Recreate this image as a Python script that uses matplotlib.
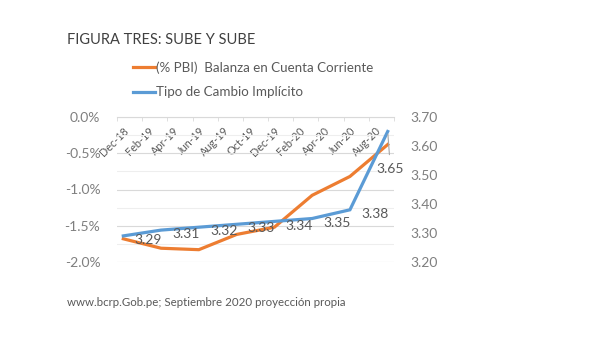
## Figura tres: balanza en cuenta corriente vs tipo de cambio
import matplotlib
matplotlib.use('Agg')
import matplotlib.pyplot as plt
from matplotlib.ticker import FuncFormatter, MultipleLocator
from matplotlib.lines import Line2D

plt.rcParams['font.family'] = ['Lato', 'DejaVu Sans']

## data
months = ['Dec-18', 'Jan-19', 'Feb-19', 'Mar-19', 'Apr-19', 'May-19', 'Jun-19', 'Jul-19',
          'Aug-19', 'Sep-19', 'Oct-19', 'Nov-19', 'Dec-19', 'Jan-20', 'Feb-20', 'Mar-20',
          'Apr-20', 'May-20', 'Jun-20', 'Jul-20', 'Aug-20', 'Sep-20']
quarters = ['Dec-18', 'Mar-19', 'Jun-19', 'Sep-19', 'Dec-19', 'Mar-20', 'Jun-20', 'Sep-20']
balanza = [-1.68, -1.81, -1.83, -1.62, -1.52, -1.08, -0.82, -0.38]   # % PBI
tipo_cambio = [3.29, 3.31, 3.32, 3.33, 3.34, 3.35, 3.38, 3.65]

orange = '#ED7D31'
blue = '#5B9BD5'
grey = '#595959'

xq = [months.index(q) for q in quarters]

fig = plt.figure(figsize=(6.02, 3.39), dpi=100)
ax = fig.add_axes([117/602, 1 - 262/339, 277/602, 145/339])
ax2 = ax.twinx()

ax.plot(xq, balanza, color=orange, lw=2.3, solid_joinstyle='miter', zorder=3)
ax2.plot(xq, tipo_cambio, color=blue, lw=2.3, solid_joinstyle='miter', zorder=3)

ax.set_xlim(-0.5, len(months) - 0.5)
ax.set_ylim(-2.0, 0.0)
ax2.set_ylim(3.20, 3.70)

# grid
ax.yaxis.set_major_locator(MultipleLocator(0.5))
ax.yaxis.set_minor_locator(MultipleLocator(0.25))
ax.grid(axis='y', which='major', color='#D9D9D9', lw=0.8)
ax.grid(axis='y', which='minor', color='#EEEEEE', lw=0.8)
ax.set_axisbelow(True)
ax2.yaxis.set_major_locator(MultipleLocator(0.1))

for a in (ax, ax2):
    for s in a.spines.values():
        s.set_visible(False)

# category axis sits at 0.0%
ax.spines['bottom'].set_visible(True)
ax.spines['bottom'].set_position(('data', 0))
ax.spines['bottom'].set_color('#D9D9D9')
ax.set_xticks(range(0, len(months), 2))
ax.set_xticklabels(months[::2], rotation=45, ha='right', va='top',
                   rotation_mode='anchor', fontsize=7.8, color=grey)
ax.set_xticks([i - 0.5 for i in range(0, len(months) + 1, 2)], minor=True)
ax.tick_params(axis='x', which='major', length=0, pad=6)
ax.tick_params(axis='x', which='minor', length=3, color='#D9D9D9')

ax.yaxis.set_major_formatter(FuncFormatter(lambda v, p: '%.1f%%' % v))
ax.tick_params(axis='y', which='both', length=0, labelsize=10, labelcolor='#7F7F7F', pad=12)
ax2.yaxis.set_major_formatter(FuncFormatter(lambda v, p: '%.2f' % v))
ax2.tick_params(axis='y', length=0, labelsize=10, labelcolor='#7F7F7F', pad=12)

# data labels
for x, v in zip(xq[:-1], tipo_cambio[:-1]):
    ax2.annotate('%.2f' % v, (x, v), xytext=(8, -3), textcoords='offset points',
                 ha='left', va='center', fontsize=10, color=grey)
ax2.annotate('%.2f' % tipo_cambio[-1], (xq[-1], tipo_cambio[-1]), xytext=(2, -27),
             textcoords='offset points', ha='center', va='center', fontsize=10, color=grey,
             arrowprops=dict(arrowstyle='-', color='#A6A6A6', lw=0.8, shrinkA=4, shrinkB=2))

# title, legend, source
fig.text(67/602, 1 - 40/339, 'FIGURA TRES: SUBE Y SUBE', fontsize=10.5, color='#404040',
         ha='left', va='center')
handles = [Line2D([], [], color=orange, lw=2.3), Line2D([], [], color=blue, lw=2.3)]
fig.legend(handles, ['(% PBI)  Balanza en Cuenta Corriente', 'Tipo de Cambio Implícito'],
           loc='upper left', bbox_to_anchor=(133/602, 1 - 61/339), frameon=False,
           fontsize=9.6, labelcolor=grey, handlelength=1.65, handletextpad=0.1,
           labelspacing=0.95, borderpad=0, borderaxespad=0)
fig.text(67/602, 1 - 303/339, 'www.bcrp.Gob.pe; Septiembre 2020 proyección propia',
         fontsize=8.3, color=grey, ha='left', va='center')

fig.savefig('out.png', dpi=100)
